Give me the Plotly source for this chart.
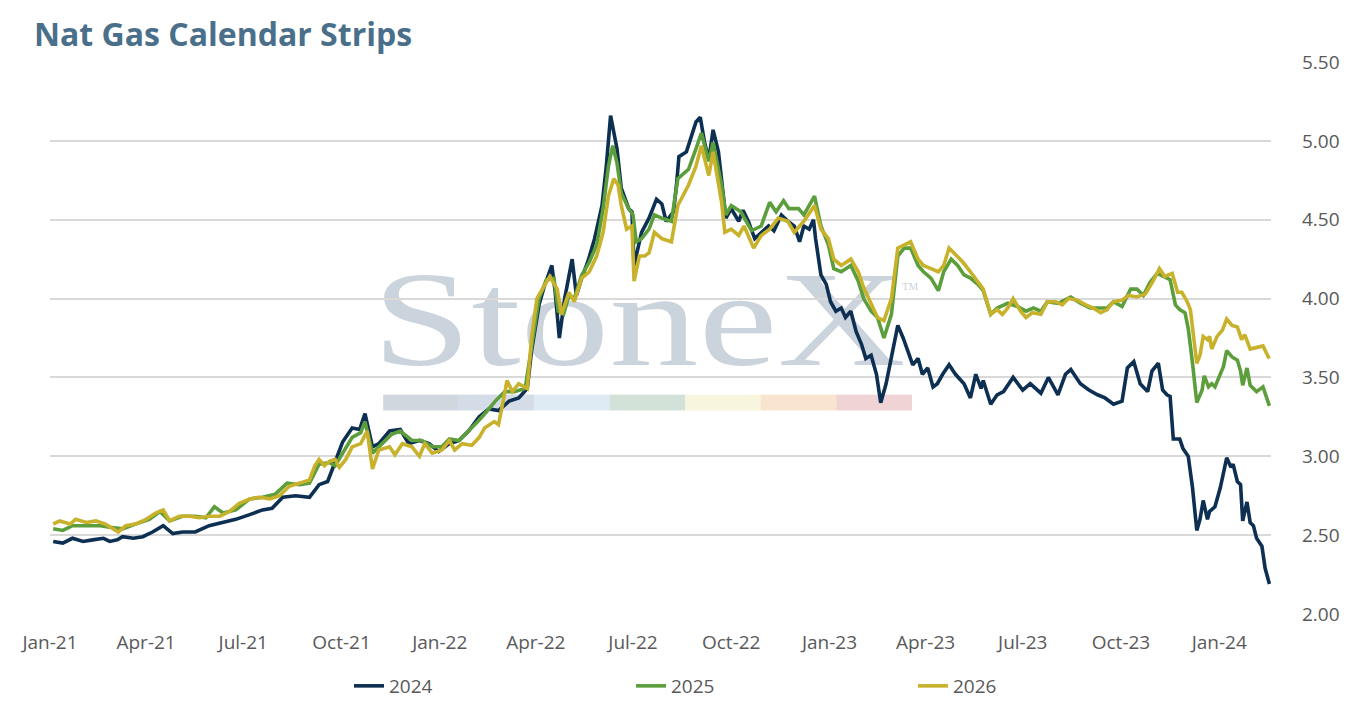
import base64
import plotly.graph_objects as go

# 2024 strip (navy)
dates_2024 = [
    "2021-01-04", "2021-01-13", "2021-01-22", "2021-02-01", "2021-02-10", "2021-02-20", "2021-02-26",
    "2021-03-05", "2021-03-10", "2021-03-20", "2021-03-29", "2021-04-07", "2021-04-17", "2021-04-26",
    "2021-05-05", "2021-05-17", "2021-05-30", "2021-06-12", "2021-06-24", "2021-07-07", "2021-07-19",
    "2021-07-28", "2021-08-07", "2021-08-19", "2021-09-01", "2021-09-10", "2021-09-18", "2021-09-22",
    "2021-10-02", "2021-10-11", "2021-10-18", "2021-10-23", "2021-10-30", "2021-11-05", "2021-11-15",
    "2021-11-25", "2021-12-03", "2021-12-13", "2021-12-22", "2021-12-31", "2022-01-10", "2022-01-19",
    "2022-01-28", "2022-02-07", "2022-02-16", "2022-02-25", "2022-03-07", "2022-03-16", "2022-03-24",
    "2022-03-28", "2022-04-04", "2022-04-09", "2022-04-16", "2022-04-19", "2022-04-23", "2022-04-28",
    "2022-05-05", "2022-05-09", "2022-05-14", "2022-05-20", "2022-05-26", "2022-06-02", "2022-06-06",
    "2022-06-10", "2022-06-16", "2022-06-20", "2022-06-27", "2022-06-30", "2022-07-02", "2022-07-09",
    "2022-07-16", "2022-07-23", "2022-07-28", "2022-08-01", "2022-08-08", "2022-08-11", "2022-08-13",
    "2022-08-20", "2022-08-25", "2022-08-29", "2022-09-02", "2022-09-06", "2022-09-10", "2022-09-14",
    "2022-09-19", "2022-09-24", "2022-09-26", "2022-10-01", "2022-10-08", "2022-10-12", "2022-10-17",
    "2022-10-23", "2022-10-29", "2022-11-05", "2022-11-10", "2022-11-17", "2022-11-23", "2022-11-29",
    "2022-12-04", "2022-12-08", "2022-12-13", "2022-12-17", "2022-12-19", "2022-12-24", "2022-12-29",
    "2023-01-02", "2023-01-07", "2023-01-12", "2023-01-16", "2023-01-21", "2023-01-26", "2023-01-31",
    "2023-02-04", "2023-02-09", "2023-02-14", "2023-02-18", "2023-02-23", "2023-02-28", "2023-03-06",
    "2023-03-11", "2023-03-15", "2023-03-20", "2023-03-25", "2023-03-29", "2023-04-03", "2023-04-08",
    "2023-04-12", "2023-04-17", "2023-04-23", "2023-04-29", "2023-05-07", "2023-05-13", "2023-05-18",
    "2023-05-23", "2023-05-25", "2023-06-01", "2023-06-07", "2023-06-13", "2023-06-22", "2023-07-01",
    "2023-07-08", "2023-07-18", "2023-07-25", "2023-08-03", "2023-08-10", "2023-08-15", "2023-08-24",
    "2023-09-01", "2023-09-09", "2023-09-16", "2023-09-24", "2023-10-02", "2023-10-07", "2023-10-13",
    "2023-10-19", "2023-10-26", "2023-10-30", "2023-11-05", "2023-11-09", "2023-11-13", "2023-11-16",
    "2023-11-19", "2023-11-25", "2023-11-28", "2023-12-03", "2023-12-07", "2023-12-11", "2023-12-14",
    "2023-12-17", "2023-12-21", "2023-12-23", "2023-12-28", "2024-01-02", "2024-01-05", "2024-01-08",
    "2024-01-12", "2024-01-14", "2024-01-18", "2024-01-21", "2024-01-23", "2024-01-27", "2024-01-30",
    "2024-02-02", "2024-02-05", "2024-02-10", "2024-02-13", "2024-02-17",
]
strip_2024 = [
    2.46, 2.45, 2.48, 2.46, 2.47, 2.48, 2.46,
    2.47, 2.49, 2.48, 2.49, 2.52, 2.56, 2.51,
    2.52, 2.52, 2.56, 2.58, 2.60, 2.63, 2.66,
    2.67, 2.74, 2.75, 2.74, 2.82, 2.84, 2.91,
    3.09, 3.18, 3.17, 3.27, 3.06, 3.08, 3.16,
    3.17, 3.08, 3.10, 3.08, 3.03, 3.08, 3.10,
    3.16, 3.25, 3.30, 3.29, 3.35, 3.37, 3.43,
    3.67, 3.96, 4.08, 4.21, 4.05, 3.75, 4.00,
    4.25, 4.02, 4.13, 4.24, 4.38, 4.59, 4.84,
    5.16, 4.95, 4.70, 4.57, 4.55, 4.21, 4.42,
    4.51, 4.63, 4.60, 4.49, 4.55, 4.74, 4.90,
    4.93, 5.03, 5.12, 5.15, 4.99, 4.88, 5.07,
    4.93, 4.63, 4.51, 4.57, 4.49, 4.56, 4.49,
    4.38, 4.42, 4.46, 4.43, 4.53, 4.49, 4.46,
    4.36, 4.46, 4.44, 4.50, 4.38, 4.15, 4.09,
    3.98, 3.92, 3.94, 3.88, 3.92, 3.79, 3.71,
    3.62, 3.64, 3.52, 3.34, 3.46, 3.62, 3.83,
    3.75, 3.67, 3.58, 3.62, 3.52, 3.56, 3.44,
    3.46, 3.52, 3.58, 3.52, 3.46, 3.37, 3.52,
    3.43, 3.48, 3.33, 3.39, 3.41, 3.50, 3.42,
    3.46, 3.40, 3.50, 3.39, 3.52, 3.55, 3.46,
    3.42, 3.39, 3.37, 3.33, 3.35, 3.56, 3.60,
    3.46, 3.41, 3.54, 3.59, 3.42, 3.39, 3.38,
    3.11, 3.11, 3.05, 3.00, 2.80, 2.53, 2.60,
    2.72, 2.60, 2.65, 2.68, 2.80, 2.89, 2.99,
    2.93, 2.95, 2.84, 2.82, 2.59, 2.71, 2.58,
    2.56, 2.48, 2.43, 2.29, 2.19,
]

# 2025 strip (green)
dates_2025 = [
    "2021-01-04", "2021-01-13", "2021-01-22", "2021-02-04", "2021-02-17", "2021-02-26", "2021-03-10",
    "2021-03-22", "2021-04-04", "2021-04-14", "2021-04-23", "2021-05-05", "2021-05-17", "2021-05-27",
    "2021-06-04", "2021-06-12", "2021-06-24", "2021-07-07", "2021-07-19", "2021-07-31", "2021-08-11",
    "2021-08-23", "2021-09-01", "2021-09-10", "2021-09-20", "2021-09-25", "2021-10-02", "2021-10-11",
    "2021-10-19", "2021-10-23", "2021-10-30", "2021-11-08", "2021-11-17", "2021-11-25", "2021-12-06",
    "2021-12-15", "2021-12-25", "2022-01-03", "2022-01-10", "2022-01-19", "2022-01-28", "2022-02-07",
    "2022-02-16", "2022-02-22", "2022-03-03", "2022-03-12", "2022-03-22", "2022-03-28", "2022-04-04",
    "2022-04-11", "2022-04-18", "2022-04-22", "2022-04-27", "2022-05-02", "2022-05-07", "2022-05-14",
    "2022-05-21", "2022-05-28", "2022-06-03", "2022-06-08", "2022-06-12", "2022-06-16", "2022-06-20",
    "2022-06-27", "2022-07-01", "2022-07-04", "2022-07-09", "2022-07-16", "2022-07-21", "2022-07-28",
    "2022-08-06", "2022-08-12", "2022-08-22", "2022-08-29", "2022-09-03", "2022-09-10", "2022-09-14",
    "2022-09-22", "2022-09-26", "2022-10-01", "2022-10-10", "2022-10-20", "2022-10-29", "2022-11-06",
    "2022-11-12", "2022-11-19", "2022-11-24", "2022-12-03", "2022-12-08", "2022-12-18", "2022-12-24",
    "2022-12-31", "2023-01-05", "2023-01-12", "2023-01-21", "2023-01-28", "2023-02-02", "2023-02-09",
    "2023-02-15", "2023-02-21", "2023-02-28", "2023-03-06", "2023-03-12", "2023-03-18", "2023-03-25",
    "2023-03-30", "2023-04-06", "2023-04-13", "2023-04-18", "2023-04-25", "2023-05-01", "2023-05-07",
    "2023-05-13", "2023-05-20", "2023-05-25", "2023-06-01", "2023-06-07", "2023-06-17", "2023-06-26",
    "2023-07-04", "2023-07-11", "2023-07-18", "2023-07-24", "2023-08-03", "2023-08-15", "2023-08-24",
    "2023-09-02", "2023-09-12", "2023-09-18", "2023-09-24", "2023-10-02", "2023-10-10", "2023-10-16",
    "2023-10-22", "2023-10-28", "2023-11-04", "2023-11-10", "2023-11-16", "2023-11-21", "2023-11-25",
    "2023-11-30", "2023-12-03", "2023-12-07", "2023-12-09", "2023-12-11", "2023-12-16", "2023-12-18",
    "2023-12-22", "2023-12-25", "2023-12-28", "2024-01-02", "2024-01-05", "2024-01-08", "2024-01-13",
    "2024-01-18", "2024-01-21", "2024-01-23", "2024-01-27", "2024-01-30", "2024-02-05", "2024-02-11",
    "2024-02-15", "2024-02-17",
]
strip_2025 = [
    2.54, 2.53, 2.56, 2.56, 2.56, 2.55, 2.54,
    2.57, 2.60, 2.65, 2.59, 2.62, 2.62, 2.61,
    2.68, 2.64, 2.66, 2.73, 2.74, 2.76, 2.83,
    2.82, 2.83, 2.95, 2.96, 2.94, 3.02, 3.12,
    3.15, 3.22, 3.02, 3.08, 3.14, 3.16, 3.10,
    3.10, 3.06, 3.06, 3.11, 3.10, 3.16, 3.23,
    3.30, 3.35, 3.41, 3.41, 3.43, 3.71, 4.00,
    4.12, 4.13, 3.92, 3.90, 4.02, 4.00, 4.15,
    4.23, 4.34, 4.57, 4.84, 4.97, 4.86, 4.67,
    4.57, 4.53, 4.36, 4.38, 4.44, 4.53, 4.51,
    4.49, 4.76, 4.82, 4.95, 5.05, 4.87, 4.99,
    4.72, 4.53, 4.59, 4.55, 4.43, 4.46, 4.61,
    4.55, 4.62, 4.57, 4.57, 4.53, 4.65, 4.46,
    4.34, 4.19, 4.17, 4.21, 4.11, 4.00, 3.92,
    3.88, 3.75, 3.90, 4.27, 4.32, 4.32, 4.21,
    4.17, 4.13, 4.05, 4.17, 4.25, 4.21, 4.15,
    4.13, 4.09, 4.05, 3.90, 3.94, 3.97, 3.95,
    3.92, 3.94, 3.92, 3.98, 3.97, 4.01, 3.97,
    3.94, 3.94, 3.94, 3.98, 3.95, 4.06, 4.06,
    4.02, 4.10, 4.16, 4.14, 4.12, 3.96, 3.93,
    3.91, 3.81, 3.59, 3.47, 3.34, 3.42, 3.51,
    3.44, 3.46, 3.44, 3.52, 3.57, 3.67, 3.63,
    3.61, 3.54, 3.45, 3.56, 3.45, 3.41, 3.44,
    3.35, 3.32,
]

# 2026 strip (gold)
dates_2026 = [
    "2021-01-04", "2021-01-10", "2021-01-20", "2021-01-25", "2021-02-04", "2021-02-13", "2021-02-22",
    "2021-03-01", "2021-03-06", "2021-03-13", "2021-03-22", "2021-04-01", "2021-04-10", "2021-04-17",
    "2021-04-23", "2021-05-02", "2021-05-12", "2021-05-21", "2021-05-30", "2021-06-09", "2021-06-18",
    "2021-06-27", "2021-07-07", "2021-07-16", "2021-07-26", "2021-08-04", "2021-08-13", "2021-08-23",
    "2021-09-01", "2021-09-06", "2021-09-10", "2021-09-15", "2021-09-20", "2021-09-25", "2021-09-29",
    "2021-10-05", "2021-10-11", "2021-10-19", "2021-10-25", "2021-10-30", "2021-11-05", "2021-11-15",
    "2021-11-20", "2021-11-27", "2021-12-06", "2021-12-13", "2021-12-18", "2021-12-25", "2022-01-03",
    "2022-01-10", "2022-01-15", "2022-01-22", "2022-01-31", "2022-02-07", "2022-02-12", "2022-02-21",
    "2022-02-25", "2022-03-02", "2022-03-05", "2022-03-10", "2022-03-16", "2022-03-24", "2022-03-28",
    "2022-04-02", "2022-04-07", "2022-04-14", "2022-04-21", "2022-04-25", "2022-05-02", "2022-05-07",
    "2022-05-14", "2022-05-21", "2022-05-28", "2022-06-03", "2022-06-08", "2022-06-13", "2022-06-17",
    "2022-06-20", "2022-06-25", "2022-06-30", "2022-07-02", "2022-07-07", "2022-07-12", "2022-07-16",
    "2022-07-21", "2022-07-28", "2022-08-06", "2022-08-12", "2022-08-22", "2022-08-29", "2022-09-03",
    "2022-09-10", "2022-09-14", "2022-09-22", "2022-09-25", "2022-10-01", "2022-10-08", "2022-10-13",
    "2022-10-22", "2022-10-29", "2022-11-06", "2022-11-14", "2022-11-23", "2022-11-29", "2022-12-08",
    "2022-12-18", "2022-12-24", "2022-12-31", "2023-01-05", "2023-01-12", "2023-01-21", "2023-01-28",
    "2023-02-02", "2023-02-09", "2023-02-15", "2023-02-21", "2023-02-28", "2023-03-06", "2023-03-12",
    "2023-03-18", "2023-03-25", "2023-03-30", "2023-04-06", "2023-04-13", "2023-04-18", "2023-04-23",
    "2023-04-29", "2023-05-06", "2023-05-13", "2023-05-20", "2023-05-25", "2023-06-01", "2023-06-07",
    "2023-06-12", "2023-06-17", "2023-06-22", "2023-06-29", "2023-07-04", "2023-07-10", "2023-07-18",
    "2023-07-24", "2023-08-01", "2023-08-07", "2023-08-13", "2023-08-21", "2023-08-29", "2023-09-05",
    "2023-09-12", "2023-09-18", "2023-09-24", "2023-10-02", "2023-10-08", "2023-10-16", "2023-10-24",
    "2023-10-31", "2023-11-06", "2023-11-11", "2023-11-18", "2023-11-23", "2023-11-27", "2023-12-02",
    "2023-12-05", "2023-12-08", "2023-12-11", "2023-12-14", "2023-12-17", "2023-12-21", "2023-12-23",
    "2023-12-25", "2023-12-30", "2024-01-04", "2024-01-08", "2024-01-13", "2024-01-18", "2024-01-22",
    "2024-01-25", "2024-01-30", "2024-02-05", "2024-02-11", "2024-02-16", "2024-02-17",
]
strip_2026 = [
    2.57, 2.59, 2.57, 2.60, 2.58, 2.59, 2.57,
    2.54, 2.52, 2.56, 2.57, 2.60, 2.64, 2.66,
    2.59, 2.62, 2.62, 2.61, 2.62, 2.62, 2.65,
    2.70, 2.73, 2.74, 2.73, 2.75, 2.81, 2.83,
    2.85, 2.94, 2.98, 2.94, 2.97, 2.98, 2.93,
    2.98, 3.06, 3.08, 3.16, 2.92, 3.04, 3.06,
    3.01, 3.08, 3.06, 3.00, 3.08, 3.02, 3.04,
    3.10, 3.04, 3.08, 3.07, 3.12, 3.18, 3.22,
    3.20, 3.37, 3.48, 3.41, 3.46, 3.43, 3.75,
    4.00, 4.06, 4.14, 4.06, 3.90, 4.04, 3.98,
    4.13, 4.17, 4.27, 4.42, 4.65, 4.76, 4.72,
    4.59, 4.44, 4.46, 4.11, 4.27, 4.27, 4.29,
    4.42, 4.38, 4.36, 4.59, 4.72, 4.84, 4.97,
    4.78, 4.93, 4.61, 4.42, 4.44, 4.40, 4.46,
    4.32, 4.40, 4.44, 4.51, 4.49, 4.42, 4.49,
    4.59, 4.44, 4.38, 4.25, 4.21, 4.25, 4.17,
    4.07, 3.96, 3.88, 3.86, 4.00, 4.32, 4.34,
    4.36, 4.25, 4.21, 4.19, 4.17, 4.21, 4.32,
    4.28, 4.23, 4.17, 4.11, 4.06, 3.90, 3.93,
    3.90, 3.94, 4.00, 3.92, 3.88, 3.91, 3.90,
    3.98, 3.98, 3.96, 4.00, 3.99, 3.96, 3.94,
    3.91, 3.93, 3.98, 3.99, 4.02, 4.01, 4.03,
    4.11, 4.19, 4.14, 4.16, 4.04, 4.04, 3.98,
    3.93, 3.74, 3.59, 3.64, 3.76, 3.74, 3.76,
    3.68, 3.76, 3.80, 3.87, 3.83, 3.82, 3.74,
    3.77, 3.68, 3.69, 3.70, 3.63, 3.62,
]

series = [
    ("2024", dates_2024, strip_2024, "#0c2f52"),
    ("2025", dates_2025, strip_2025, "#5b9e3b"),
    ("2026", dates_2026, strip_2026, "#c8b12b"),
]

grey = "#595959"
font_name = "'Open Sans', 'Noto Sans', sans-serif"

fig = go.Figure()
for name, x, y, color in series:
    fig.add_trace(go.Scatter(
        x=x, y=y, name=name, mode="lines",
        line=dict(color=color, width=3.6)))

# StoneX watermark with its colour strip, drawn under the grid
strip_colors = ["#d1d7df", "#d4dde7", "#deeaf4", "#d3e2d8", "#f7f5de", "#f9e4cf", "#f0d4d5"]
rects = ""
for i, c in enumerate(strip_colors):
    rects += '<rect x="%.1f" y="137" width="%.1f" height="16" fill="%s"/>' % (6 + i * 75.7, 75.9, c)
svg = (
    '<svg xmlns="http://www.w3.org/2000/svg" width="560" height="160" viewBox="0 0 560 160" '
    'preserveAspectRatio="none">'
    '<text x="-5" y="107" font-family="Liberation Serif, DejaVu Serif, serif" font-size="136" '
    'fill="#cbd3dc" textLength="535" lengthAdjust="spacingAndGlyphs">StoneX</text>'
    '<text x="526" y="32" font-family="Liberation Serif, serif" font-size="11" fill="#cbd3dc">TM</text>'
    + rects + '</svg>')
src = "data:image/svg+xml;base64," + base64.b64encode(svg.encode("utf-8")).decode("ascii")

# the page puts the figure 8px in from the top-left corner
fig.update_layout(
    width=1350, height=707,
    paper_bgcolor="white", plot_bgcolor="white",
    margin=dict(l=39, r=87, t=54, b=97),
    font=dict(family=font_name, size=19, color=grey),
    title=dict(
        text="<b>Nat Gas Calendar Strips</b>",
        x=26 / 1350, xanchor="left", xref="container",
        y=1 - 27 / 707, yanchor="middle", yref="container",
        font=dict(family=font_name, size=32, color="#4a6f8a")),
    xaxis=dict(
        type="date",
        range=["2021-01-01", "2024-02-18 12:00"],
        tick0="2021-01-01", dtick="M3", tickformat="%b-%y",
        showgrid=False, zeroline=False, showline=False,
        ticks="", ticklabelstandoff=15,
        tickfont=dict(size=19, color=grey)),
    yaxis=dict(
        side="right",
        range=[2.0, 5.5], dtick=0.5, tickformat=".2f",
        showgrid=True, gridcolor="#d9d9d9", gridwidth=1.5,
        zeroline=False, showline=False, ticks="",
        ticklabelstandoff=30,
        tickfont=dict(size=19, color=grey)),
    legend=dict(
        orientation="h",
        x=341 / 1350, xanchor="left", xref="container",
        y=1 - 678 / 707, yanchor="middle", yref="container",
        entrywidth=237, entrywidthmode="pixels",
        font=dict(size=19, color=grey),
        bgcolor="rgba(0,0,0,0)"),
    images=[dict(
        source=src, xref="paper", yref="paper",
        x=(375 - 47) / 1224, y=(618 - 260) / 556,
        sizex=560 / 1224, sizey=160 / 556,
        xanchor="left", yanchor="top",
        sizing="stretch", layer="below")],
)

fig.write_html("out.html")
